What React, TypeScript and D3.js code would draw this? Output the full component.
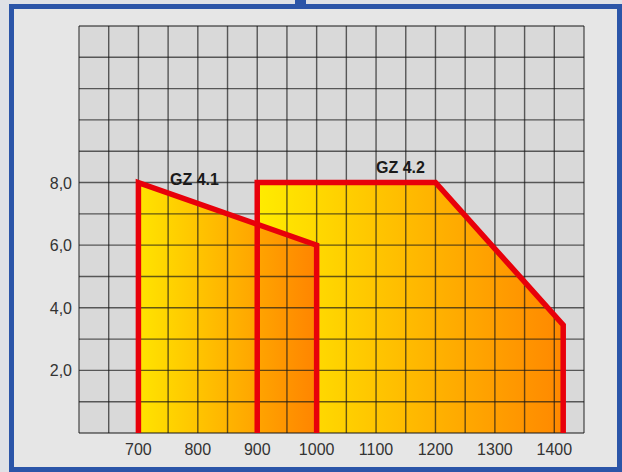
import React from "react";
import * as d3 from "d3";

const xTicks = [700, 800, 900, 1000, 1100, 1200, 1300, 1400];
const yTicks = [2, 4, 6, 8];
const yTickLabels = ["2,0", "4,0", "6,0", "8,0"];
const gz41X = [700, 700, 1000, 1000];
const gz41Y = [0, 8, 6, 0];
const gz42X = [900, 900, 1200, 1415, 1415];
const gz42Y = [0, 8, 8, 3.45, 0];
const seriesNames = ["GZ 4.1", "GZ 4.2"];

const W = 622;
const H = 472;

export default function App() {
  const x = d3.scaleLinear().domain([600, 1450]).range([79, 584]);
  const y = d3.scaleLinear().domain([0, 13]).range([433, 26]);
  const line = d3
    .line<[number, number]>()
    .x((d) => x(d[0]))
    .y((d) => y(d[1]));
  const o41 = line(gz41X.map((v, i) => [v, gz41Y[i]] as [number, number]))!;
  const o42 = line(gz42X.map((v, i) => [v, gz42Y[i]] as [number, number]))!;
  const p41 = o41 + "Z";
  const p42 = o42 + "Z";

  const vLines = d3.range(600, 1451, 50);
  const hLines = d3.range(0, 14, 1);

  return (
    <svg
      width={W}
      height={H}
      style={{ position: "fixed", left: 0, top: 0 }}
      fontFamily="'Liberation Sans', Arial, sans-serif"
    >
      <defs>
        <linearGradient id="g41" x1="0" x2="1" y1="0" y2="0">
          <stop offset="0" stopColor="#ffe400" />
          <stop offset="1" stopColor="#ff8400" />
        </linearGradient>
        <linearGradient id="g42" x1="0" x2="1" y1="0" y2="0">
          <stop offset="0" stopColor="#ffec00" />
          <stop offset="1" stopColor="#ff8800" />
        </linearGradient>
      </defs>
      <rect x={0} y={0} width={W} height={H} fill="#dfe1e6" />
      <rect x={11.5} y={6.5} width={608} height={463} fill="#e6e6e6" stroke="#2b55a8" strokeWidth={5} />
      <rect x={295} y={0} width={11} height={6} fill="#2b55a8" />
      <rect x={x(600)} y={y(13)} width={x(1450) - x(600)} height={y(0) - y(13)} fill="#d9d9d9" />
      <path d={p42} fill="url(#g42)" />
      <path d={p41} fill="url(#g41)" />
      <g stroke="rgba(25,25,25,0.68)" strokeWidth={1.4}>
        {vLines.map((v) => (
          <line key={"v" + v} x1={x(v)} x2={x(v)} y1={y(0)} y2={y(13)} />
        ))}
        {hLines.map((v) => (
          <line key={"h" + v} x1={x(600)} x2={x(1450)} y1={y(v)} y2={y(v)} />
        ))}
      </g>
      <path d={o42} fill="none" stroke="#e8000a" strokeWidth={5.5} strokeLinejoin="miter" />
      <path d={o41} fill="none" stroke="#e8000a" strokeWidth={5.5} strokeLinejoin="miter" />
      <g fill="#333" fontSize={16} textAnchor="middle">
        {xTicks.map((t) => (
          <text key={t} x={x(t)} y={455}>
            {t}
          </text>
        ))}
      </g>
      <g fill="#333" fontSize={16} textAnchor="end">
        {yTicks.map((t, i) => (
          <text key={t} x={72} y={y(t) + 6}>
            {yTickLabels[i]}
          </text>
        ))}
      </g>
      <g fill="#1a1a1a" fontSize={16} fontWeight="bold">
        <text x={170} y={185}>{seriesNames[0]}</text>
        <text x={376} y={173}>{seriesNames[1]}</text>
      </g>
    </svg>
  );
}
